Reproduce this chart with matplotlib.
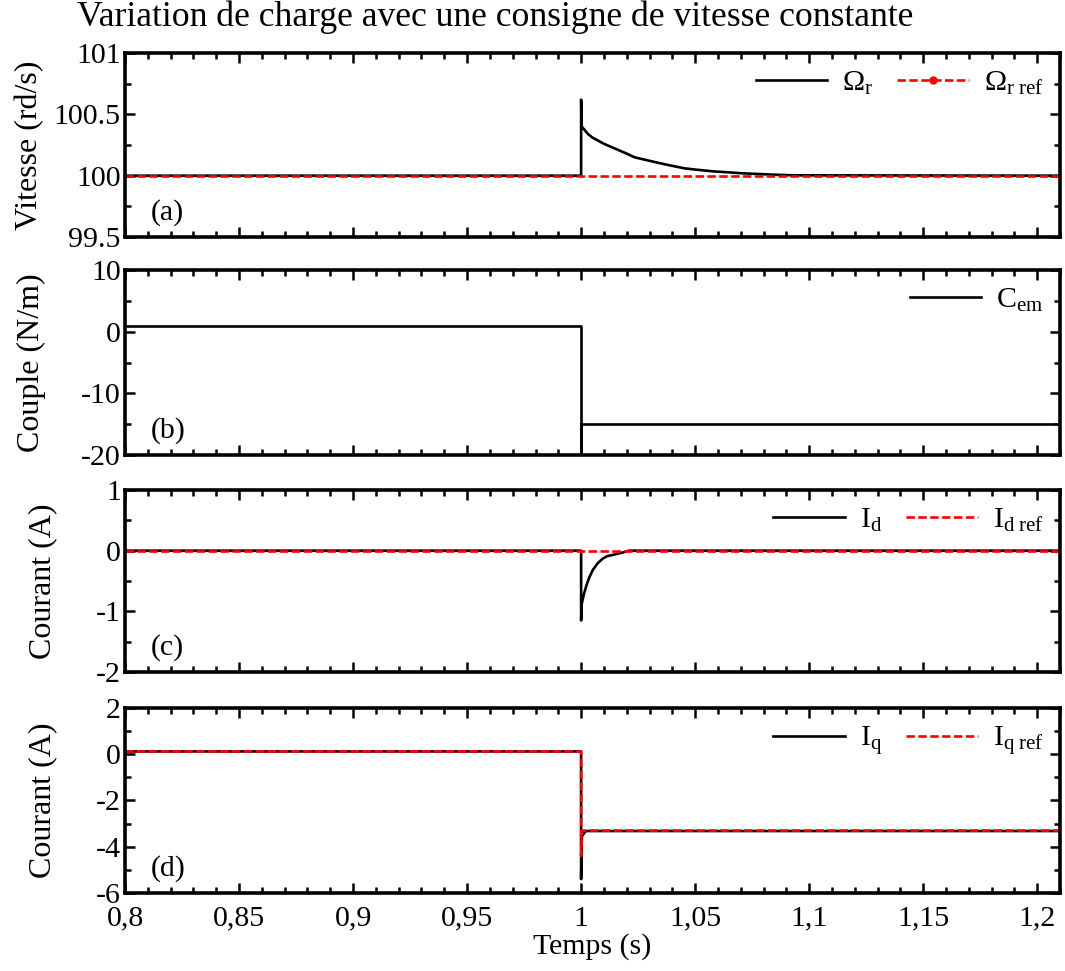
import matplotlib
matplotlib.use("Agg")
import matplotlib.pyplot as plt
from matplotlib.lines import Line2D
from matplotlib.ticker import MultipleLocator, FuncFormatter

plt.rcParams['font.family'] = ['Liberation Serif', 'DejaVu Serif']
plt.rcParams['mathtext.fontset'] = 'custom'
plt.rcParams['mathtext.rm'] = 'Liberation Serif'
plt.rcParams['mathtext.it'] = 'Liberation Serif:italic'
plt.rcParams['axes.unicode_minus'] = False

FS = 21.5
FS_LABEL = 23
FS_TITLE = 25.7

# (a) rotor speed and its reference
t_speed = [0.8, 1.0, 1.0, 1.0003, 1.003, 1.005, 1.0075, 1.01, 1.0125, 1.015,
           1.0175, 1.02, 1.0234, 1.028, 1.035, 1.04, 1.0453, 1.05, 1.058,
           1.065, 1.0702, 1.075, 1.08, 1.085, 1.093, 1.21]
speed = [100.0, 100.0, 100.62, 100.40, 100.34, 100.31, 100.285, 100.26, 100.24,
         100.22, 100.20, 100.18, 100.15, 100.13, 100.10, 100.08, 100.06, 100.05,
         100.035, 100.027, 100.02, 100.016, 100.012, 100.008, 100.003, 100.0]
t_speed_ref = [0.8, 1.21]
speed_ref = [100.0, 100.0]

# (b) electromagnetic torque
t_torque = [0.8, 1.0, 1.0, 1.0, 1.21]
torque = [0.9, 0.9, -20.0, -15.0, -15.0]

# (c) d-axis current and its reference
t_id = [0.8, 1.0, 1.0, 1.0003, 1.0012, 1.0022, 1.0035, 1.0051, 1.0072, 1.0095,
        1.0115, 1.0139, 1.0183, 1.021, 1.21]
i_d = [0.0, 0.0, -1.15, -0.87, -0.72, -0.59, -0.45, -0.32, -0.21, -0.13,
       -0.09, -0.07, -0.03, 0.0, 0.0]
t_id_ref = [0.8, 1.21]
i_d_ref = [0.0, 0.0]

# (d) q-axis current and its reference
t_iq = [0.8, 1.0, 1.0, 1.0003, 1.002, 1.21]
i_q = [0.12, 0.12, -5.4, -3.55, -3.32, -3.32]
t_iq_ref = [0.8, 1.0, 1.0, 1.0005, 1.21]
i_q_ref = [0.12, 0.12, -4.4, -3.30, -3.30]

x_ticks = [0.8, 0.85, 0.9, 0.95, 1.0, 1.05, 1.1, 1.15, 1.2]

fig = plt.figure(figsize=(10.65, 9.71), dpi=100)
left, width = 0.1174, 0.8779
boxes = [(0.7559, 0.9454), (0.5314, 0.7219), (0.3079, 0.4954), (0.0803, 0.2709)]
axes = [fig.add_axes([left, b, width, t - b]) for b, t in boxes]

LW = 1.9
RED = '#ff0000'
DASH = (0, (3.2, 1.3))


def comma_fmt(v, pos):
    s = f"{v:.2f}".rstrip('0').rstrip('.')
    return s.replace('.', ',')


def style(ax, ylim, ymaj, ymin, ylabel, label_x, tag, show_x=False):
    ax.set_xlim(0.8, 1.21)
    ax.set_ylim(*ylim)
    ax.set_xticks(x_ticks)
    ax.xaxis.set_minor_locator(MultipleLocator(0.01))
    ax.yaxis.set_major_locator(MultipleLocator(ymaj))
    ax.yaxis.set_minor_locator(MultipleLocator(ymin))
    ax.tick_params(which='both', direction='in', top=True, right=True,
                   labelsize=FS, width=1.8)
    ax.tick_params(which='major', length=7)
    ax.tick_params(which='minor', length=4)
    ax.tick_params(axis='y', pad=3)
    for sp in ax.spines.values():
        sp.set_linewidth(2.6)
    if show_x:
        ax.xaxis.set_major_formatter(FuncFormatter(comma_fmt))
        ax.tick_params(axis='x', pad=9)
    else:
        ax.tick_params(axis='x', labelbottom=False)
    ax.set_ylabel(ylabel, fontsize=FS_LABEL)
    ax.yaxis.set_label_coords(label_x, 0.5)
    ax.text(0.027, 0.06, tag, transform=ax.transAxes, fontsize=FS,
            ha='left', va='bottom')


leg_kw = dict(loc='upper right', frameon=False, fontsize=FS, ncol=2,
              handlelength=2.4, columnspacing=0.8, handletextpad=0.5,
              borderaxespad=0.15)

# (a)
ax = axes[0]
ax.plot(t_speed, speed, color='black', lw=LW)
ax.plot(t_speed_ref, speed_ref, color=RED, lw=LW, linestyle=DASH)
style(ax, (99.5, 101), 0.5, 0.25, 'Vitesse (rd/s)', -0.086, '(a)')
ax.yaxis.set_major_formatter(FuncFormatter(lambda v, p: f"{v:g}"))
h1 = Line2D([], [], color='black', lw=LW)
h2 = Line2D([], [], color=RED, lw=LW, linestyle=DASH, marker='o', markersize=5)
ax.legend([h1, h2], [r'$\Omega_{\mathrm{r}}$', r'$\Omega_{\mathrm{r\ ref}}$'],
          numpoints=1, **leg_kw)

# (b)
ax = axes[1]
ax.plot(t_torque, torque, color='black', lw=LW)
style(ax, (-20, 10), 10, 5, 'Couple (N/m)', -0.085, '(b)')
ax.legend([Line2D([], [], color='black', lw=LW)], [r'$\mathrm{C}_{\mathrm{em}}$'],
          **leg_kw)

# (c)
ax = axes[2]
ax.plot(t_id, i_d, color='black', lw=LW)
ax.plot(t_id_ref, i_d_ref, color=RED, lw=LW, linestyle=DASH)
style(ax, (-2, 1), 1, 0.5, 'Courant (A)', -0.073, '(c)')
ax.legend([Line2D([], [], color='black', lw=LW),
           Line2D([], [], color=RED, lw=LW, linestyle=DASH)],
          [r'$\mathrm{I}_{\mathrm{d}}$', r'$\mathrm{I}_{\mathrm{d\ ref}}$'], **leg_kw)

# (d)
ax = axes[3]
ax.plot(t_iq, i_q, color='black', lw=LW)
ax.plot(t_iq_ref, i_q_ref, color=RED, lw=LW, linestyle=DASH)
style(ax, (-6, 2), 2, 1, 'Courant (A)', -0.073, '(d)', show_x=True)
ax.legend([Line2D([], [], color='black', lw=LW),
           Line2D([], [], color=RED, lw=LW, linestyle=DASH)],
          [r'$\mathrm{I}_{\mathrm{q}}$', r'$\mathrm{I}_{\mathrm{q\ ref}}$'], **leg_kw)
ax.set_xlabel('Temps (s)', fontsize=FS, labelpad=1)

fig.suptitle('Variation de charge avec une consigne de vitesse constante',
             fontsize=FS_TITLE, x=0.465, y=0.999, va='top')

fig.savefig('out.png', dpi=100)
